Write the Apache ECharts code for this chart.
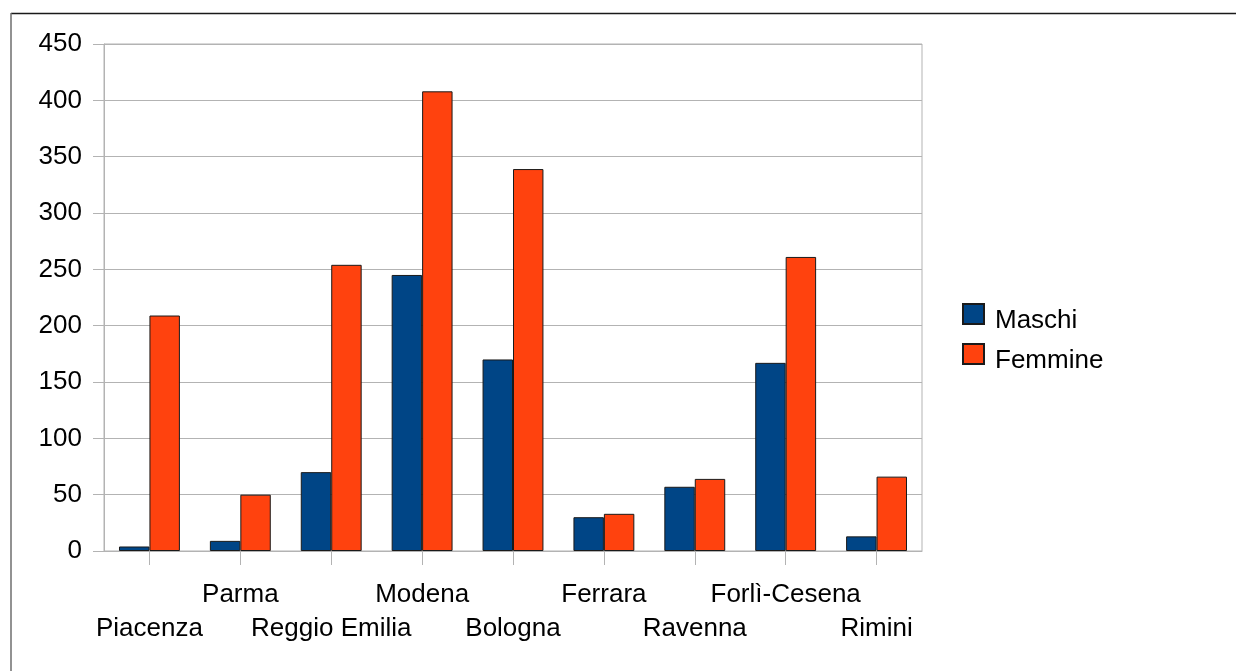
<!DOCTYPE html>
<html>
<head>
<meta charset="utf-8">
<style>
  html, body { margin: 0; padding: 0; background: #ffffff; }
  #chart { width: 1236px; height: 671px; }
</style>
<script src="https://cdn.jsdelivr.net/npm/echarts@6/dist/echarts.min.js"></script>
</head>
<body>
<div id="chart"></div>
<script>
// Provinces of Emilia-Romagna
const categories = ['Piacenza', 'Parma', 'Reggio Emilia', 'Modena', 'Bologna', 'Ferrara', 'Ravenna', 'Forlì-Cesena', 'Rimini'];
const maschi   = [4, 9, 70, 245, 170, 30, 57, 167, 13];
const femmine  = [209, 50, 254, 408, 339, 33, 64, 261, 66];
const yTicks   = { min: 0, max: 450, interval: 50 };

const FONT = '"Liberation Sans", Arial, sans-serif';
const GRID_GREY = '#b3b3b3';

const chart = echarts.init(document.getElementById('chart'), null, { renderer: 'canvas' });

chart.setOption({
  animation: false,
  backgroundColor: '#ffffff',
  textStyle: { fontFamily: FONT, color: '#000' },
  graphic: [
    { type: 'line', shape: { x1: 11, y1: 13.5, x2: 1236, y2: 13.5 }, style: { stroke: '#1a1a1a', lineWidth: 1.5 } },
    { type: 'line', shape: { x1: 11, y1: 13, x2: 11, y2: 671 }, style: { stroke: '#6e6e6e', lineWidth: 1.5 } }
  ],
  grid: {
    left: 104, right: 314, top: 44, bottom: 120,
    show: true, borderColor: GRID_GREY, borderWidth: 1,
    containLabel: false
  },
  legend: {
    orient: 'vertical',
    left: 962, top: 303,
    padding: 0,
    itemWidth: 21, itemHeight: 20, itemGap: 9,
    icon: 'rect',
    formatter: name => '{t|' + name + '}',
    textStyle: {
      fontFamily: FONT, fontSize: 26, color: '#000',
      rich: { t: { fontFamily: FONT, fontSize: 26, color: '#000', padding: [14, 0, 0, 6] } }
    },
    data: ['Maschi', 'Femmine']
  },
  xAxis: {
    type: 'category',
    data: categories,
    axisLine: { show: true, lineStyle: { color: GRID_GREY, width: 1 } },
    axisTick: { show: true, alignWithLabel: true, length: 14, lineStyle: { color: GRID_GREY } },
    axisLabel: {
      interval: 0,
      hideOverlap: false,
      margin: 27,
      fontFamily: FONT,
      fontSize: 26,
      lineHeight: 34,
      color: '#000',
      // staggered rows: every other label drops to the second line
      formatter: (v, i) => (i % 2 === 0 ? '\n' + v : v)
    },
    splitLine: { show: false }
  },
  yAxis: {
    type: 'value',
    min: yTicks.min, max: yTicks.max, interval: yTicks.interval,
    axisLine: { show: true, lineStyle: { color: GRID_GREY, width: 1 } },
    axisTick: { show: true, length: 11, lineStyle: { color: GRID_GREY } },
    axisLabel: { margin: 22, fontFamily: FONT, fontSize: 26, color: '#000' },
    splitLine: { show: true, lineStyle: { color: GRID_GREY, width: 1 } }
  },
  series: [
    {
      name: 'Maschi', type: 'bar', data: maschi,
      barGap: '0%', barCategoryGap: '33%',
      itemStyle: { color: '#004586', borderColor: '#1a1a1a', borderWidth: 1 }
    },
    {
      name: 'Femmine', type: 'bar', data: femmine,
      barGap: '0%', barCategoryGap: '33%',
      itemStyle: { color: '#ff420e', borderColor: '#1a1a1a', borderWidth: 1 }
    }
  ]
});
</script>
</body>
</html>
